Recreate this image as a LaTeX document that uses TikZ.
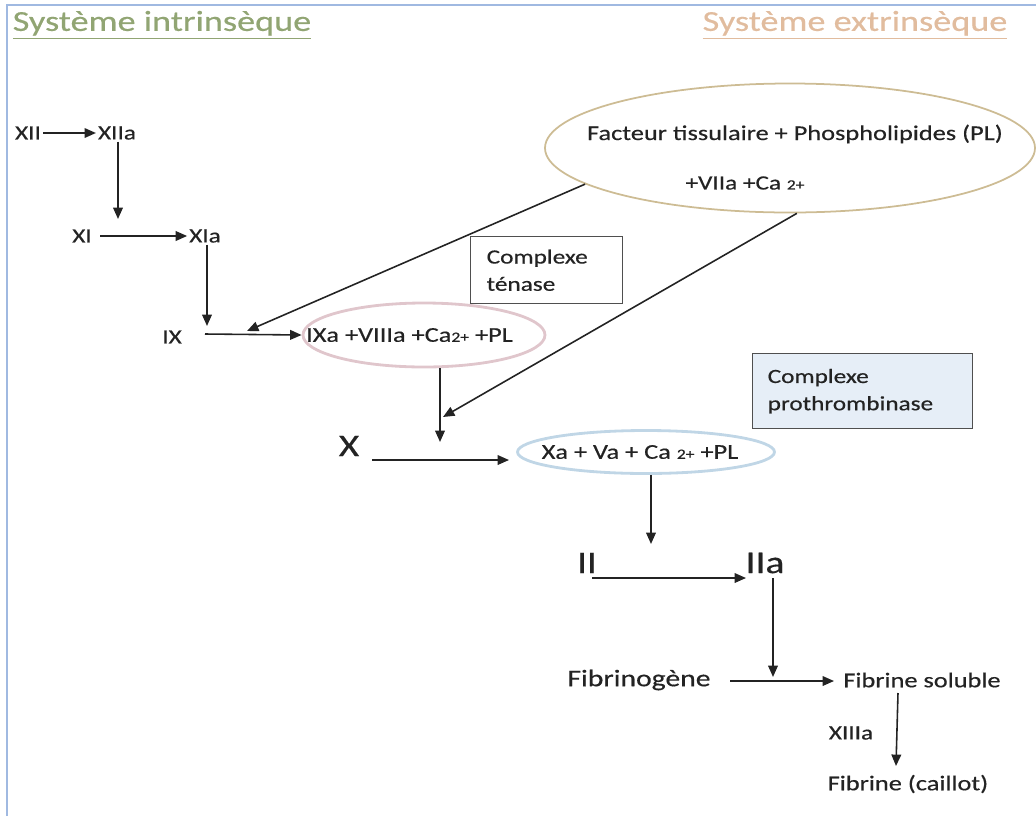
\documentclass[tikz,border=0pt]{standalone}
\usepackage{fontspec}
\setmainfont{Carlito}[FakeStretch=1.25,FakeBold=0.45]
\usetikzlibrary{arrows.meta,shapes.geometric}
\definecolor{intgreen}{RGB}{145,165,115}
\definecolor{exttan}{RGB}{225,188,158}
\definecolor{framblue}{RGB}{160,185,225}
\definecolor{ovaltan}{RGB}{205,188,148}
\definecolor{ovalpink}{RGB}{224,198,204}
\definecolor{ovalblue}{RGB}{192,214,230}
\definecolor{boxblue}{RGB}{230,238,247}
\definecolor{inkgray}{RGB}{35,35,35}
\newcommand{\chg}[1]{{\fontsize{8}{9}\selectfont #1}}

\begin{document}
\begin{tikzpicture}[x=0.02cm,y=-0.02cm,>={Triangle[length=6.5pt,width=5.5pt]},
  lbl/.style={inner sep=1pt,text=inkgray,font=\fontsize{11.5}{13}\selectfont},
  mid/.style={inner sep=1pt,text=inkgray,font=\fontsize{12}{14}\selectfont},
  big/.style={inner sep=1pt,text=inkgray,font=\fontsize{18}{20}\selectfont},
  title/.style={inner sep=1pt,font=\fontsize{16.5}{19}\selectfont},
  oval/.style={ellipse,draw,line width=1.6pt,inner sep=0pt},
  tagbox/.style={draw=inkgray!80,line width=0.8pt,align=left,anchor=north west,
    inner sep=0pt,text=inkgray,font=\fontsize{11.5}{15.5}\selectfont},
  conn/.style={->,draw=inkgray,line width=0.9pt}]
  \useasboundingbox (0,0) rectangle (1036,816);
  % frame
  \draw[framblue,line width=1.2pt] (7,816) -- (7,5) -- (1036,5);
  % titles
  \node[title,text=intgreen] (tint) at (162,25) {\underline{Système intrinsèque}};
  \node[title,text=exttan] (text) at (855,25) {\underline{Système extrinsèque}};

  % intrinsic pathway
  \node[lbl] (xii) at (28,133) {XII};
  \node[lbl] (xiia) at (117,133) {XIIa};
  \node[lbl] (xi) at (82,236) {XI};
  \node[lbl] (xia) at (205,236) {XIa};
  \node[lbl] (ix) at (172,337) {IX};
  \coordinate (c12) at (118,219);
  \coordinate (c11s) at (100,236);
  \coordinate (c11) at (207,326);
  \coordinate (c9s) at (205,334);
  \draw[conn] (xii) -- (xiia);
  \draw[conn] (xiia.south -| c12) -- (c12);
  \draw[conn] (c11s) -- (xia);
  \draw[conn] (xia.south -| c11) -- (c11);

  % tenase
  \node[oval,draw=ovalpink,minimum width=242*0.02cm,minimum height=64*0.02cm] (tenov) at (424,335) {};
  \node[mid,anchor=west] (tentx) at (304,335) {IXa +VIIIa +Ca\chg{2+} +PL};
  \draw[conn] (c9s) -- (tenov.west);
  \node[tagbox,minimum width=140*0.02cm,minimum height=67*0.02cm,text width=120*0.02cm,inner xsep=16*0.02cm,inner ysep=9*0.02cm] (tenbox) at (470,236) {Complexe\\ténase};

  % extrinsic pathway
  \node[oval,draw=ovaltan,line width=1pt,minimum width=490*0.02cm,minimum height=129*0.02cm] (tfov) at (790,148) {};
  \node[mid] (tftx) at (795,134) {Facteur tissulaire + Phospholipides (PL)};
  \node[lbl] (viia) at (745,183) {+VIIa +Ca \chg{2+}};
  \coordinate (c9t) at (247,331);
  \coordinate (c10t) at (443,417);
  \draw[conn] (tfov.190.5) -- (c9t);
  \draw[conn] (tfov.276) -- (c10t);

  % prothrombinase
  \node[big] (x) at (349,446) {X};
  \coordinate (cxa) at (440,442);
  \coordinate (cxs) at (372,460);
  \coordinate (cxe) at (509,460);
  \draw[conn] (tenov.south -| cxa) -- (cxa);
  \draw[conn] (cxs) -- (cxe);
  \node[oval,draw=ovalblue,minimum width=257*0.02cm,minimum height=43*0.02cm] (proov) at (646,452) {};
  \node[mid] (protx) at (640,452) {Xa + Va + Ca \chg{2+} +PL};
  \node[tagbox,fill=boxblue,minimum width=206*0.02cm,minimum height=75*0.02cm,text width=190*0.02cm,inner xsep=15*0.02cm,inner ysep=10*0.02cm] (probox) at (752,353) {Complexe\\prothrombinase};

  % thrombin and fibrin
  \node[big] (ii) at (587,563) {II};
  \node[big] (iia) at (765,563) {IIa};
  \coordinate (c2) at (651,544);
  \coordinate (c2s) at (592,578);
  \coordinate (c2e) at (746,578);
  \draw[conn] (proov.south -| c2) -- (c2);
  \draw[conn] (c2s) -- (c2e);
  \node[font=\fontsize{13.5}{16}\selectfont,text=inkgray,inner sep=1pt] (fbg) at (639,680) {Fibrinogène};
  \node[mid] (fbs) at (922,680) {Fibrine soluble};
  \coordinate (cfa) at (773,578);
  \coordinate (cfb) at (773,677);
  \coordinate (cfs) at (730,681);
  \coordinate (cfe) at (834,681);
  \draw[conn] (cfa) -- (cfb);
  \draw[conn] (cfs) -- (cfe);
  \node[lbl] (xiiia) at (851,733) {XIIIa};
  \node[mid] (fbc) at (908,784) {Fibrine (caillot)};
  \coordinate (cfd) at (898,693);
  \coordinate (cfc) at (896,766);
  \draw[conn] (cfd) -- (cfc);
\end{tikzpicture}
\end{document}
